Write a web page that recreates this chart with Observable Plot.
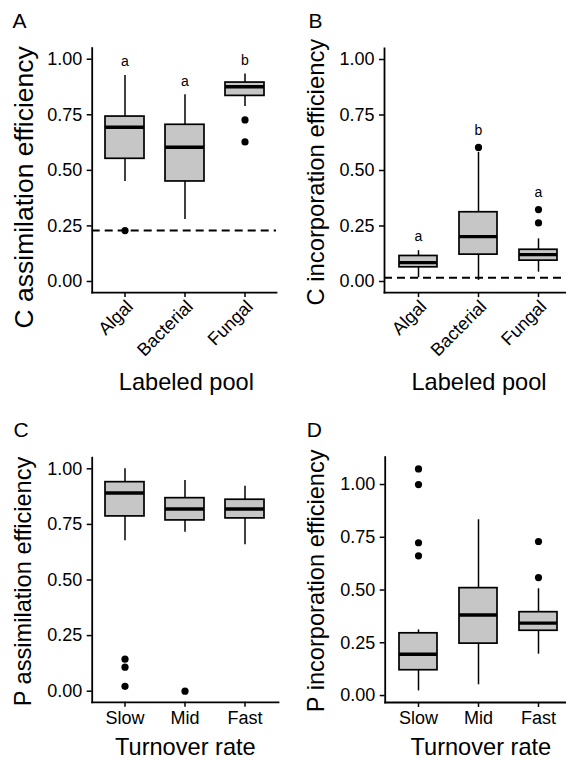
<!DOCTYPE html>
<html><head><meta charset="utf-8">
<script src="https://cdn.jsdelivr.net/npm/d3@7"></script>
<script src="https://cdn.jsdelivr.net/npm/@observablehq/plot@0.6"></script>
<style>
body{margin:0;background:#fff;}
#fig{position:relative;width:566px;height:762px;overflow:hidden;background:#fff;}
.panel{position:absolute;width:283px;height:381px;}
</style></head><body><div id="fig"></div>
<script>
const poolCats = ["Algal", "Bacterial", "Fungal"];
const rateCats = ["Slow", "Mid", "Fast"];
const yTicks = [0, 0.25, 0.5, 0.75, 1];

// Panel A: C assimilation efficiency
const aLow = [0.450, 0.279, 0.787];
const aQ1 = [0.552, 0.450, 0.835];
const aMed = [0.694, 0.604, 0.876];
const aQ3 = [0.742, 0.705, 0.895];
const aHigh = [0.927, 0.840, 0.933];
const aOutCat = ["Algal", "Fungal", "Fungal"];
const aOutVal = [0.229, 0.727, 0.628];
const aLetters = ["a", "a", "b"];
const aLetterY = [0.981, 0.892, 0.983];
const aRef = 0.229;

// Panel B: C incorporation efficiency
const bLow = [0.017, 0.005, 0.042];
const bQ1 = [0.064, 0.121, 0.094];
const bMed = [0.085, 0.202, 0.121];
const bQ3 = [0.115, 0.312, 0.143];
const bHigh = [0.139, 0.582, 0.192];
const bOutCat = ["Bacterial", "Fungal", "Fungal"];
const bOutVal = [0.604, 0.324, 0.264];
const bLetters = ["a", "b", "a"];
const bLetterY = [0.195, 0.670, 0.392];
const bRef = 0.017;

// Panel C: P assimilation efficiency
const cLow = [0.677, 0.715, 0.659];
const cQ1 = [0.786, 0.768, 0.777];
const cMed = [0.891, 0.819, 0.819];
const cQ3 = [0.940, 0.868, 0.861];
const cHigh = [1.000, 0.948, 0.922];
const cOutCat = ["Slow", "Slow", "Slow", "Mid"];
const cOutVal = [0.144, 0.108, 0.022, 0.000];

// Panel D: P incorporation efficiency
const dLow = [0.022, 0.051, 0.196];
const dQ1 = [0.120, 0.246, 0.307];
const dMed = [0.196, 0.382, 0.343];
const dQ3 = [0.295, 0.509, 0.395];
const dHigh = [0.311, 0.833, 0.506];
const dOutCat = ["Slow", "Slow", "Slow", "Slow", "Fast", "Fast"];
const dOutVal = [1.074, 1.000, 0.724, 0.662, 0.730, 0.559];

function panel(o) {
  const boxes = o.cats.map((c, i) => ({cat: c, low: o.low[i], q1: o.q1[i], med: o.med[i], q3: o.q3[i], high: o.high[i]}));
  const outs = o.outCat.map((c, i) => ({cat: c, v: o.outVal[i]}));
  const letters = o.letters ? o.cats.map((c, i) => ({cat: c, t: o.letters[i], y: o.letterY[i]})) : [];
  const marks = [];
  marks.push(
    Plot.ruleX(boxes, {x: "cat", y1: "low", y2: "high", stroke: "black", strokeWidth: 1.5}),
    Plot.barY(boxes, {x: "cat", y1: "q1", y2: "q3", fill: "#c6c6c6", stroke: "black", strokeWidth: 1.7}),
    Plot.tickY(boxes, {x: "cat", y: "med", stroke: "black", strokeWidth: 3.4})
  );
  if (o.ref != null) marks.push(Plot.ruleY([o.ref], {stroke: "black", strokeWidth: 2, strokeDasharray: "8,5"}));
  marks.push(
    Plot.dot(outs, {x: "cat", y: "v", r: 3.6, fill: "black", stroke: "none"}),
    Plot.text(letters, {x: "cat", y: "y", text: "t", fontSize: 14, lineAnchor: "middle", dy: -2}),
    Plot.frame({anchor: "left", stroke: "black", strokeWidth: 1.8}),
    Plot.frame({anchor: "bottom", stroke: "black", strokeWidth: 1.8}),
    Plot.axisY({ticks: yTicks, tickFormat: d3.format(".2f"), tickSize: 5, tickPadding: 5, label: null, fontSize: 18, strokeWidth: 1.5}),
    o.rot
      ? Plot.axisX({tickRotate: -45, textAnchor: "end", lineAnchor: "top", tickSize: 5, tickPadding: 1, label: null, fontSize: 18, strokeWidth: 1.5})
      : Plot.axisX({tickSize: 5, tickPadding: 3.5, label: null, fontSize: 18, strokeWidth: 1.5}),
    Plot.text([o.ytitle], {frameAnchor: "left", textAnchor: "middle", lineAnchor: "middle", rotate: -90, fontSize: o.ytSize, dx: o.ytDx, dy: o.ytDy}),
    Plot.text([o.xtitle], {frameAnchor: "bottom", textAnchor: "middle", lineAnchor: "middle", fontSize: 23.6, dx: o.xtDx, dy: o.xtDy}),
    Plot.text([o.tag], {frameAnchor: "top-left", textAnchor: "start", lineAnchor: "middle", fontSize: 21, dx: o.tagDx, dy: o.tagDy})
  );
  return Plot.plot({
    width: 283, height: 381,
    marginLeft: o.mL, marginRight: o.mR, marginTop: o.mT, marginBottom: o.mB,
    style: {fontFamily: "'Liberation Sans', Arial, Helvetica, sans-serif", fontSize: "18px", color: "black", background: "transparent", overflow: "visible"},
    x: {type: "band", domain: o.cats, range: o.xRange, paddingInner: o.pi, paddingOuter: 0},
    y: {domain: o.yDomain},
    marks
  });
}

const panels = [
  {pos: [0, 0], cats: poolCats, low: aLow, q1: aQ1, med: aMed, q3: aQ3, high: aHigh, outCat: aOutCat, outVal: aOutVal,
   letters: aLetters, letterY: aLetterY, ref: aRef, rot: true,
   mL: 91.7, mR: 7, mT: 47.6, mB: 88.9, xRange: [104.3, 266], pi: 0.343, yDomain: [-0.05, 1.05],
   ytitle: "C assimilation efficiency", ytSize: 26.5, ytDx: -67.7, ytDy: 17,
   xtitle: "Labeled pool", xtDx: 2, xtDy: 90.3, tag: "A", tagDx: -79.7, tagDy: -27.3},
  {pos: [283, 0], cats: poolCats, low: bLow, q1: bQ1, med: bMed, q3: bQ3, high: bHigh, outCat: bOutCat, outVal: bOutVal,
   letters: bLetters, letterY: bLetterY, ref: bRef, rot: true,
   mL: 101, mR: 0, mT: 47.9, mB: 88.9, xRange: [114.8, 275.8], pi: 0.36, yDomain: [-0.05, 1.05],
   ytitle: "C incorporation efficiency", ytSize: 23.8, ytDx: -67.7, ytDy: 1.7,
   xtitle: "Labeled pool", xtDx: 3.5, xtDy: 90.3, tag: "B", tagDx: -76, tagDy: -27.6},
  {pos: [0, 381], cats: rateCats, low: cLow, q1: cQ1, med: cMed, q3: cQ3, high: cHigh, outCat: cOutCat, outVal: cOutVal,
   rot: false,
   mL: 91.7, mR: 5, mT: 76.2, mB: 60.2, xRange: [104.3, 266], pi: 0.343, yDomain: [-0.05, 1.05],
   ytitle: "P assimilation efficiency", ytSize: 23.6, ytDx: -68.4, ytDy: 1.5,
   xtitle: "Turnover rate", xtDx: 0, xtDy: 45.6, tag: "C", tagDx: -78.7, tagDy: -27.9},
  {pos: [283, 381], cats: rateCats, low: dLow, q1: dQ1, med: dMed, q3: dQ3, high: dHigh, outCat: dOutCat, outVal: dOutVal,
   rot: false,
   mL: 101.7, mR: 0, mT: 75.6, mB: 60, xRange: [115.2, 275.8], pi: 0.36, yDomain: [-0.033, 1.13],
   ytitle: "P incorporation efficiency", ytSize: 23.6, ytDx: -68.4, ytDy: 1,
   xtitle: "Turnover rate", xtDx: 5, xtDy: 45.4, tag: "D", tagDx: -78.4, tagDy: -27.3}
];

const fig = document.getElementById("fig");
for (const p of panels) {
  const div = document.createElement("div");
  div.className = "panel";
  div.style.left = p.pos[0] + "px";
  div.style.top = p.pos[1] + "px";
  div.appendChild(panel(p));
  fig.appendChild(div);
}
</script>
</body></html>
